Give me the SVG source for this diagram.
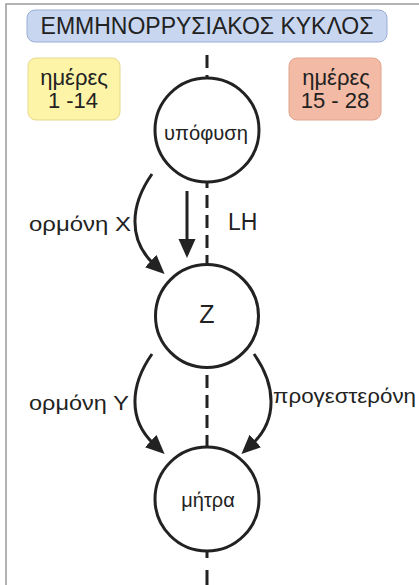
<svg xmlns="http://www.w3.org/2000/svg" width="419" height="585" viewBox="0 0 419 585">
<style>
text{font-family:"Liberation Sans",Arial,sans-serif;fill:#222}
.node{fill:#fff;stroke:#222;stroke-width:3}
.conn{fill:none;stroke:#222;stroke-width:3}
.dash{fill:none;stroke:#222;stroke-width:3;stroke-dasharray:13 7}
.lbl{font-size:20px}
.day{font-size:22px}
</style>
<defs>
<marker id="ah" markerUnits="userSpaceOnUse" markerWidth="20" markerHeight="18" refX="4" refY="8.5" orient="auto">
<path d="M0,0 L19,8.5 L0,17 z" fill="#222"/>
</marker>
</defs>
<rect x="0" y="0" width="419" height="585" fill="#fff"/>
<path d="M6,585 V4 H419" fill="none" stroke="#9a9a9a" stroke-width="1.5"/>
<g id="title">
<rect x="27" y="10" width="360" height="32" rx="8" fill="#c9d6f0" stroke="#9badd6" stroke-width="1"/>
<text x="207" y="34" font-size="23" text-anchor="middle">ΕΜΜΗΝΟΡΡΥΣΙΑΚΟΣ ΚΥΚΛΟΣ</text>
</g>
<g id="days1">
<rect x="28" y="58" width="92" height="62" rx="8" fill="#fdf4a8" stroke="#e6d98c" stroke-width="1"/>
<text class="day" x="74" y="85" text-anchor="middle">ημέρες</text>
<text class="day" x="73" y="108" text-anchor="middle">1 -14</text>
</g>
<g id="days2">
<rect x="289" y="58" width="92" height="62" rx="8" fill="#f3bba5" stroke="#e2a48e" stroke-width="1"/>
<text class="day" x="336" y="85" text-anchor="middle">ημέρες</text>
<text class="day" x="335" y="108" text-anchor="middle">15 - 28</text>
</g>
<g id="connectors">
<path class="dash" d="M207,55 V548"/>
<path class="conn" d="M207,551 V558 M207,570 V585"/>
<path class="conn" d="M187,191 V243" marker-end="url(#ah)"/>
<path class="conn" d="M152,174 C130,205 128,240 153.6,263.8" marker-end="url(#ah)"/>
<path class="conn" d="M152,354 C130,385 128,420 153.6,443.8" marker-end="url(#ah)"/>
<path class="conn" d="M254,354 C276,385 278,420 252.4,443.8" marker-end="url(#ah)"/>
<text class="lbl" x="29" y="231" textLength="102" lengthAdjust="spacingAndGlyphs">ορμόνη X</text>
<text x="228" y="230" font-size="23">LH</text>
<text class="lbl" x="29" y="410" textLength="100" lengthAdjust="spacingAndGlyphs">ορμόνη Y</text>
<text class="lbl" x="273" y="403" textLength="143" lengthAdjust="spacingAndGlyphs">προγεστερόνη</text>
</g>
<g id="hypophysis">
<circle class="node" cx="207" cy="130" r="52"/>
<text x="206" y="140" font-size="20" text-anchor="middle" textLength="84" lengthAdjust="spacingAndGlyphs">υπόφυση</text>
</g>
<g id="z">
<circle class="node" cx="207" cy="316" r="51.5"/>
<text x="207" y="323" font-size="25" text-anchor="middle">Z</text>
</g>
<g id="uterus">
<circle class="node" cx="207" cy="499" r="52"/>
<text x="208" y="507" font-size="20" text-anchor="middle">μήτρα</text>
</g>
</svg>
